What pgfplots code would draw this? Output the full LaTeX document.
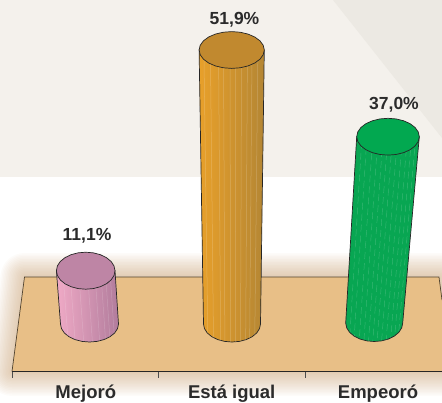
\documentclass[border=0pt]{standalone}
\usepackage{pgfplots}
\pgfplotsset{compat=1.18}
\usepackage{pgfplotstable}
\usepackage{fontspec}
\setmainfont{Liberation Sans}
\definecolor{bgA}{HTML}{F4F1EC}
\definecolor{bgB}{HTML}{ECE9E3}
\definecolor{tableC}{HTML}{E8BF87}
\definecolor{glowC}{HTML}{B8844A}
\definecolor{txt}{HTML}{2B2B2B}
\pgfplotstableread{
u v w
-1 0 0
-0.966 0.259 0
-0.866 0.5 0
-0.707 0.707 0
-0.5 0.866 0
-0.259 0.966 0
0 1 0
0.259 0.966 0
0.5 0.866 0
0.707 0.707 0
0.866 0.5 0
0.966 0.259 0
1 0 0
1 0 1
-1 0 1
}\sidetab
\pgfplotstableread{
u v
1 0
0.966 0.259
0.866 0.5
0.707 0.707
0.5 0.866
0.259 0.966
0 1
-0.259 0.966
-0.5 0.866
-0.707 0.707
-0.866 0.5
-0.966 0.259
-1 0
-0.966 -0.259
-0.866 -0.5
-0.707 -0.707
-0.5 -0.866
-0.259 -0.966
0 -1
0.259 -0.966
0.5 -0.866
0.707 -0.707
0.866 -0.5
0.966 -0.259
}\elltab
\pgfplotstableread{
w z
0 0
1 1
}\stripetab
\pgfplotstableread{
x y
24.5 277
439 277
443 304
443 372
12 372
}\plane
\begin{document}
\begin{tikzpicture}
\path[use as bounding box] (0,0) rectangle (442pt,402pt);
\clip (0,0) rectangle (442pt,402pt);
\begin{axis}[
  at={(0,0)}, anchor=south west,
  scale only axis, width=442pt, height=402pt,
  xmin=0, xmax=442, ymin=0, ymax=402, y dir=reverse,
  hide axis, clip=false]
% background
\addplot[fill=bgA, draw=none] coordinates {(0,0) (442,0) (442,177) (0,177)} --cycle;
\addplot[fill=bgB, draw=none] coordinates {(333,0) (442,0) (442,138)} --cycle;
% glow around the plane
\pgfplotsinvokeforeach{3,6,9,12,15,18,21,24,27,30,33,36,39,42,45,48}{
  \addplot[draw=glowC, draw opacity=0.03, line width=#1pt, line join=round] table[x=x,y=y]{\plane} --cycle;
}
% plane
\addplot[fill=tableC, draw=none] table[x=x,y=y]{\plane} --cycle;
\addplot[draw=black!65!tableC, line width=0.7pt] coordinates {(12,371.5) (24.5,277) (439,277) (442,300)};
\addplot[draw=black!85, line width=0.8pt] coordinates {(12,371.5) (442,371.5)};
\addplot[draw=black!70, line width=0.7pt] coordinates {(12,371.5) (12,378)};
\addplot[draw=black!70, line width=0.7pt] coordinates {(158.5,371.5) (158.5,378)};
\addplot[draw=black!70, line width=0.7pt] coordinates {(305,371.5) (305,378)};
% Mejoró 11,1
\def\bx{89.5}\def\by{324}\def\rb{29}\def\ryb{18}\def\tx{85.7}\def\ty{270.7}\def\rt{29.3}\def\ryt{18.5}
\addplot[draw=black!85, line width=0.7pt, left color={rgb,255:red,240;green,170;blue,198}, middle color={rgb,255:red,236;green,164;blue,194}, right color={rgb,255:red,178;green,124;blue,156}]
 table[x expr=\tx*\thisrow{w}+\bx*(1-\thisrow{w})+(\rt*\thisrow{w}+\rb*(1-\thisrow{w}))*\thisrow{u}, y expr=\ty*\thisrow{w}+\by*(1-\thisrow{w})+\ryb*\thisrow{v}]{\sidetab} --cycle;
\pgfplotsinvokeforeach{-0.75,-0.5,-0.2,0.1,0.35,0.55,0.7,0.85}{
 \addplot[draw=white, draw opacity=0.18, line width=0.5pt] table[x expr=\tx*\thisrow{w}+\bx*(1-\thisrow{w})+(\rt*\thisrow{w}+\rb*(1-\thisrow{w}))*#1, y expr=\ty*\thisrow{w}+\by*(1-\thisrow{w})+(\ryt*\thisrow{w}+\ryb*(1-\thisrow{w}))*sqrt(1-(#1)^2)]{\stripetab};
}
\addplot[draw=black!85, line width=0.7pt, fill={rgb,255:red,190;green,133;blue,165}] table[x expr=\tx+\rt*\thisrow{u}, y expr=\ty+\ryt*\thisrow{v}]{\elltab} --cycle;
\node[font=\bfseries\fontsize{17.5}{18}\selectfont, text=txt] at (axis cs:87,236) {11,1\%};
% Está igual 51,9
\def\bx{232}\def\by{324}\def\rb{28.5}\def\ryb{18}\def\tx{231.7}\def\ty{50}\def\rt{32.6}\def\ryt{18.4}
\addplot[draw=black!85, line width=0.7pt, left color={rgb,255:red,232;green,160;blue,42}, middle color={rgb,255:red,240;green,166;blue,48}, right color={rgb,255:red,180;green,134;blue,52}]
 table[x expr=\tx*\thisrow{w}+\bx*(1-\thisrow{w})+(\rt*\thisrow{w}+\rb*(1-\thisrow{w}))*\thisrow{u}, y expr=\ty*\thisrow{w}+\by*(1-\thisrow{w})+\ryb*\thisrow{v}]{\sidetab} --cycle;
\pgfplotsinvokeforeach{-0.85,-0.65,-0.4,-0.25,-0.05,0.12,0.3,0.48,0.62,0.8}{
 \addplot[draw=white, draw opacity=0.22, line width=0.5pt] table[x expr=\tx*\thisrow{w}+\bx*(1-\thisrow{w})+(\rt*\thisrow{w}+\rb*(1-\thisrow{w}))*#1, y expr=\ty*\thisrow{w}+\by*(1-\thisrow{w})+(\ryt*\thisrow{w}+\ryb*(1-\thisrow{w}))*sqrt(1-(#1)^2)]{\stripetab};
}
\addplot[draw=black!85, line width=0.7pt, fill={rgb,255:red,193;green,137;blue,47}] table[x expr=\tx+\rt*\thisrow{u}, y expr=\ty+\ryt*\thisrow{v}]{\elltab} --cycle;
\node[font=\bfseries\fontsize{17.5}{18}\selectfont, text=txt] at (axis cs:234.5,20) {51,9\%};
% Empeoró 37,0
\def\bx{374.2}\def\by{323}\def\rb{28.5}\def\ryb{18.5}\def\tx{388}\def\ty{136.7}\def\rt{31.3}\def\ryt{18.4}
\addplot[draw=black!85, line width=0.7pt, fill={rgb,255:red,8;green,166;blue,82}]
 table[x expr=\tx*\thisrow{w}+\bx*(1-\thisrow{w})+(\rt*\thisrow{w}+\rb*(1-\thisrow{w}))*\thisrow{u}, y expr=\ty*\thisrow{w}+\by*(1-\thisrow{w})+\ryb*\thisrow{v}]{\sidetab} --cycle;
\pgfplotsinvokeforeach{-0.85,-0.7,-0.52,-0.36,-0.2,-0.05,0.1,0.26,0.42,0.58,0.72,0.86}{
 \addplot[draw=white, draw opacity=0.2, line width=0.45pt, dash pattern=on 7pt off 4pt, dash phase={(#1+1)*17}] table[x expr=\tx*\thisrow{w}+\bx*(1-\thisrow{w})+(\rt*\thisrow{w}+\rb*(1-\thisrow{w}))*#1, y expr=\ty*\thisrow{w}+\by*(1-\thisrow{w})+(\ryt*\thisrow{w}+\ryb*(1-\thisrow{w}))*sqrt(1-(#1)^2)]{\stripetab};
}
\addplot[draw=black!85, line width=0.7pt, fill={rgb,255:red,2;green,168;blue,80}] table[x expr=\tx+\rt*\thisrow{u}, y expr=\ty+\ryt*\thisrow{v}]{\elltab} --cycle;
\node[font=\bfseries\fontsize{17.5}{18}\selectfont, text=txt] at (axis cs:394,105) {37,0\%};
% category names
\node[font=\bfseries\fontsize{18.5}{18}\selectfont, text=txt, anchor=base] at (axis cs:85.8,398) {Mejoró};
\node[font=\bfseries\fontsize{18.5}{18}\selectfont, text=txt, anchor=base] at (axis cs:231.7,398) {Está igual};
\node[font=\bfseries\fontsize{18.5}{18}\selectfont, text=txt, anchor=base] at (axis cs:378,398) {Empeoró};
\end{axis}
\end{tikzpicture}
\end{document}
